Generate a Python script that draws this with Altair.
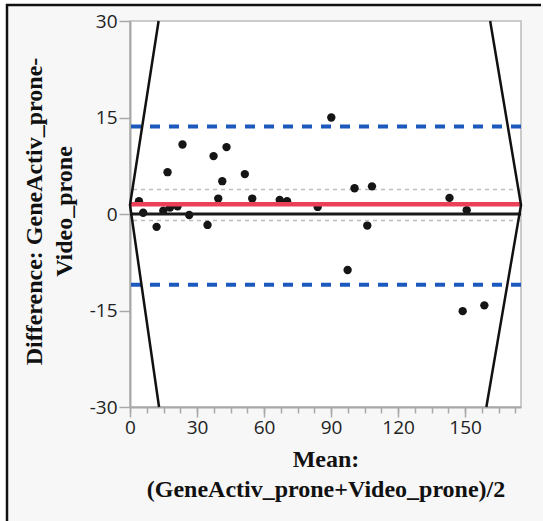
import altair as alt
import pandas as pd

# ---- data ----
mean_vals = [4.0, 5.9, 11.9, 14.9, 16.8, 17.9, 21.3, 23.5, 26.5, 34.7, 37.4, 39.5,
             41.3, 43.2, 51.4, 54.7, 67.0, 70.3, 84.0, 90.1, 97.4, 100.5, 106.2,
             108.3, 143.0, 148.9, 150.7, 158.6]
diff_vals = [2.0, 0.2, -2.0, 0.5, 6.5, 1.0, 1.2, 10.8, -0.15, -1.7, 9.0, 2.4,
             5.1, 10.4, 6.2, 2.4, 2.2, 2.0, 1.1, 15.0, -8.7, 4.0, -1.8,
             4.3, 2.5, -15.1, 0.6, -14.2]

mean_diff = 1.5
upper_loa = 13.6
lower_loa = -11.0
ci_upper = 3.8
ci_lower = -1.0
zero_line = 0

# range-limit boundary lines (JMP matched-pairs style)
bound_x = [12.8, 0.0, 13.0, 161.2, 175.0, 159.5]
bound_y = [30, 1.4, -30, 30, 1.4, -30]
bound_grp = ["left", "left", "left", "right", "right", "right"]

x_major = [0, 30, 60, 90, 120, 150]
x_minor = [i * 7.5 for i in range(24)]
y_ticks = [-30, -15, 0, 15, 30]

W, H = 391, 386
PADL, PADT = 130, 21

pts = pd.DataFrame({"mean": mean_vals, "diff": diff_vals})
bounds = pd.DataFrame({"x": bound_x, "y": bound_y, "g": bound_grp,
                       "o": list(range(len(bound_x)))})
one = alt.Data(values=[{"k": 1}])

xscale = alt.Scale(domain=[0, 175], nice=False, zero=False)
yscale = alt.Scale(domain=[-30, 30], nice=False, zero=False)

LABEL_FONT = "Open Sans"
TITLE_FONT = "Liberation Serif"
HYPHEN_LABEL = "datum.value < 0 ? '-' + abs(datum.value) : '' + datum.value"

x_axis = alt.Axis(
    values=x_major, orient="bottom", tickSize=10, tickWidth=1.5, tickColor="#a8a8a8",
    domainColor="#a8a8a8", domainWidth=2, labelFont=LABEL_FONT, labelFontSize=19,
    labelColor="#222222", labelPadding=1, labelFlush=False, grid=False,
    title=["Mean:", "(GeneActiv_prone+Video_prone)/2"], titleFont=TITLE_FONT,
    titleFontSize=24, titleFontWeight="bold", titleColor="#111111",
    titleLineHeight=30, titleBaseline="alphabetic", titleY=59, titleX=W / 2,
    titleAlign="center",
)
x_axis_minor = alt.Axis(
    values=x_minor, orient="bottom", tickSize=6, tickWidth=1.5, tickColor="#a8a8a8",
    labels=False, domain=False, grid=False, title=None,
)
y_axis = alt.Axis(
    values=y_ticks, orient="left", tickSize=11, tickWidth=1.5, tickColor="#a8a8a8",
    domainColor="#a8a8a8", domainWidth=2, labelFont=LABEL_FONT, labelFontSize=19,
    labelColor="#222222", labelPadding=2, labelFlush=False, labelExpr=HYPHEN_LABEL,
    grid=False,
    title=["Difference: GeneActiv_prone-", "Video_prone"], titleFont=TITLE_FONT,
    titleFontSize=24, titleFontWeight="bold", titleColor="#111111",
    titleLineHeight=30, titleBaseline="alphabetic", titleAngle=270,
    titleX=-89, titleY=190, titleAlign="center",
)

# frame decorations (outer figure border)
margin_left = alt.Chart(one).mark_rect(color="white").encode(
    x=alt.value(-PADL), x2=alt.value(-124), y=alt.value(-PADT), y2=alt.value(H + 114))
margin_top = alt.Chart(one).mark_rect(color="white").encode(
    x=alt.value(-PADL), x2=alt.value(W + 22), y=alt.value(-PADT), y2=alt.value(-17))
border_left = alt.Chart(one).mark_rule(color="#111111", strokeWidth=2.5).encode(
    x=alt.value(-123), y=alt.value(-17), y2=alt.value(H + 114))
border_top = alt.Chart(one).mark_rule(color="#111111", strokeWidth=2.5).encode(
    y=alt.value(-16), x=alt.value(-124), x2=alt.value(W + 20))

ci_lines = alt.Chart(alt.Data(values=[{"v": ci_upper}, {"v": ci_lower}])).mark_rule(
    color="#bdbdbd", strokeWidth=1.5, strokeDash=[4, 4]
).encode(y=alt.Y("v:Q", scale=yscale, axis=y_axis))

points = alt.Chart(pts).mark_circle(size=70, color="#151515", opacity=1).encode(
    x=alt.X("mean:Q", scale=xscale, axis=x_axis),
    y=alt.Y("diff:Q", scale=yscale, axis=y_axis),
)

zero = alt.Chart(alt.Data(values=[{"v": zero_line}])).mark_rule(
    color="#1a1a1a", strokeWidth=3
).encode(y=alt.Y("v:Q", scale=yscale, axis=y_axis))
mean_line = alt.Chart(alt.Data(values=[{"v": mean_diff}])).mark_rule(
    color="#ea4159", strokeWidth=4.5
).encode(y=alt.Y("v:Q", scale=yscale, axis=y_axis))
loa = alt.Chart(alt.Data(values=[{"v": upper_loa}, {"v": lower_loa}])).mark_rule(
    color="#1c59bd", strokeWidth=4, strokeDash=[10, 9]
).encode(y=alt.Y("v:Q", scale=yscale, axis=y_axis))

bound_lines = alt.Chart(bounds).mark_line(color="#111111", strokeWidth=2.5).encode(
    x=alt.X("x:Q", scale=xscale, axis=x_axis_minor),
    y=alt.Y("y:Q", scale=yscale, axis=y_axis),
    detail="g:N",
    order="o:Q",
)

chart = alt.layer(
    margin_left, margin_top, border_left, border_top,
    ci_lines, points, zero, mean_line, loa, bound_lines,
).resolve_axis(x="independent").properties(
    width=W, height=H,
    autosize=alt.AutoSizeParams(type="none"),
    padding={"left": PADL, "top": PADT, "right": 22, "bottom": 114},
    background="#f7f7f7",
).configure_view(
    fill="white", stroke="#bcbcbc", strokeWidth=1.5,
)

chart.save("out.html", embed_options={"renderer": "svg", "actions": False})
